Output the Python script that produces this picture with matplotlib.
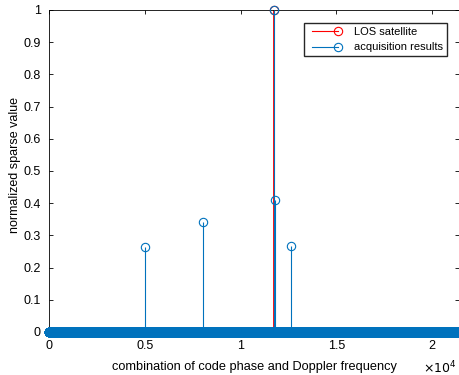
import numpy as np
import matplotlib.pyplot as plt
from matplotlib.ticker import FuncFormatter
from matplotlib.lines import Line2D
from matplotlib.legend_handler import HandlerLine2DCompound

plt.rcParams['font.family'] = ['Liberation Sans', 'DejaVu Sans']

# sparse vector length (code phase x Doppler bins)
n_bins = 21400

# non-zero acquisition results
acq_idx = [5000, 8060, 11750, 11800, 12630]
acq_val = [0.265, 0.343, 1.0, 0.41, 0.268]

# LOS satellite
los_idx = [11750]
los_val = [1.0]

blue = '#0072BD'
red = '#FF0000'


class HandlerStem(HandlerLine2DCompound):
    # line across the handle, marker at its right end (like MATLAB)
    def get_xdata(self, legend, xdescent, ydescent, width, height, fontsize):
        xdata = np.array([-xdescent + width * 0.13, -xdescent + width])
        return xdata, xdata[-1:]


x_all = np.arange(1, n_bins + 1)
y_all = np.zeros(n_bins)
for i, v in zip(acq_idx, acq_val):
    y_all[i - 1] = v

fig = plt.figure(figsize=(4.6, 3.75), dpi=100)
ax = fig.add_axes([0.1065, 0.1147, 0.8913, 0.8587])

m2, s2, b2 = ax.stem(los_idx, los_val, basefmt=' ')
plt.setp(s2, color=red, linewidth=1.3, zorder=2)
plt.setp(m2, color=red, markerfacecolor='none', markersize=6, markeredgewidth=0.8,
         clip_on=False, zorder=2)

m, s, b = ax.stem(x_all, y_all, basefmt=' ')
plt.setp(s, color=blue, linewidth=0.8, zorder=3)
plt.setp(m, color=blue, markerfacecolor='none', markersize=6, markeredgewidth=0.8,
         clip_on=False, zorder=3)

ax.set_xlim(0, n_bins)
ax.set_ylim(0, 1)
ax.set_xticks([0, 5000, 10000, 15000, 20000])
ax.xaxis.set_major_formatter(FuncFormatter(lambda v, p: '%g' % (v / 1e4)))
ax.set_yticks(np.arange(0, 1.01, 0.1))
ax.yaxis.set_major_formatter(FuncFormatter(lambda v, p: '%g' % round(v, 1)))
ax.tick_params(direction='in', top=True, right=True, labelsize=9, length=3, width=0.6)
ax.tick_params(axis='x', pad=6)
ax.tick_params(axis='y', pad=6)
for sp in ax.spines.values():
    sp.set_linewidth(0.6)

ax.set_xlabel('combination of code phase and Doppler frequency', fontsize=9.2, labelpad=6)
ax.set_ylabel('normalized sparse value', fontsize=9)
ax.yaxis.set_label_coords(-0.068, 0.52)
ax.text(0.995, -0.085, r'$\times10^4$', transform=ax.transAxes, fontsize=9,
        ha='right', va='top')

handles = [
    Line2D([], [], color=red, linewidth=0.8, marker='o', markerfacecolor='none',
           markersize=6, markeredgewidth=0.8),
    Line2D([], [], color=blue, linewidth=0.8, marker='o', markerfacecolor='none',
           markersize=6, markeredgewidth=0.8),
]
ax.legend(handles, ['LOS satellite', 'acquisition results'], loc='upper right',
          bbox_to_anchor=(0.9707, 0.9596), borderaxespad=0, fontsize=8,
          fancybox=False, edgecolor='#262626', framealpha=1, handlelength=2.7,
          handletextpad=1.44, borderpad=0.35, labelspacing=0.5,
          handler_map={Line2D: HandlerStem()})

plt.savefig('out.png', dpi=100)
